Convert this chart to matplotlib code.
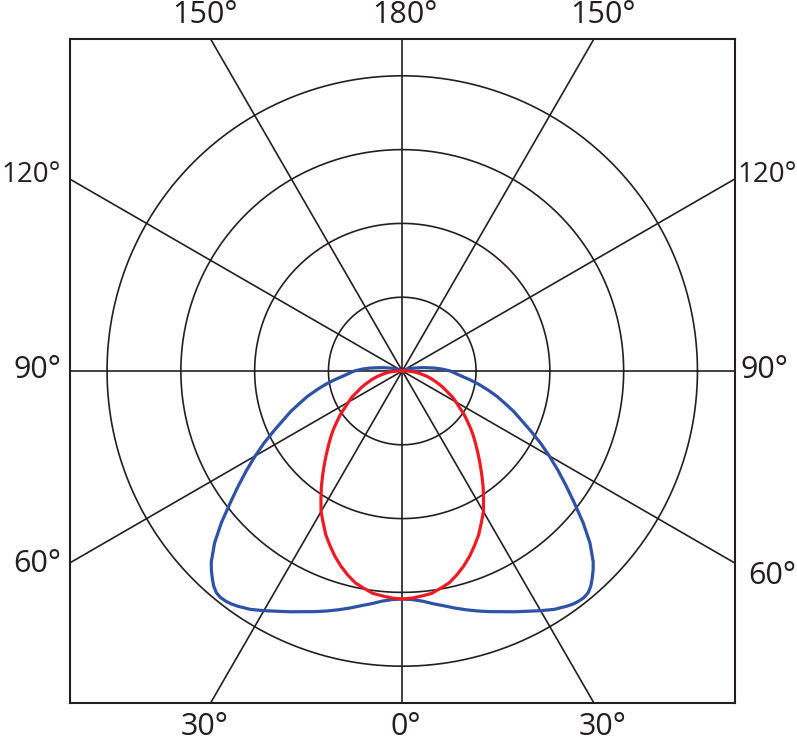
import numpy as np
import matplotlib
matplotlib.use("Agg")
import matplotlib.pyplot as plt

# ---- data (angle from nadir in degrees, intensity in ring units of 100) ----
blue_angles = [0, 2.5, 5, 7.5, 10, 12.5, 15, 17.5, 20, 22.5, 25, 27.5, 30, 32.5, 35,
               36.25, 37.5, 38.75, 40, 41.25, 42.5, 43.75, 45, 47.5, 50, 52.5, 55, 57.5,
               60, 62.5, 65, 67.5, 70, 72.5, 75, 77.5, 80, 82.5, 85, 87.5, 90, 92.5,
               95, 97.5, 100, 102.5, 105, 107.5, 110, 115, 120]
blue_values = [309, 310, 313, 318, 323, 329, 335, 341, 347, 353, 360, 367, 375, 383, 389,
               391.5, 393, 393.5, 392, 387.5, 381, 374, 366, 345, 320, 294, 271, 250,
               230, 211, 192, 175, 161, 146, 133, 119, 106, 93, 81, 72, 65, 55,
               45, 34, 26, 19, 14, 11, 7, 3, 0]

red_angles = [0, 2.5, 5, 7.5, 10, 12.5, 15, 17.5, 20, 22.5, 25, 27.5, 30, 32.5, 35,
              37.5, 40, 42.5, 45, 47.5, 50, 52.5, 55, 57.5, 60, 62.5, 65, 67.5, 70,
              72.5, 75, 77.5, 80, 82.5, 85, 87.5, 90, 92.5, 95]
red_values = [309, 308, 306, 304, 299, 294, 286, 277, 267, 256, 245, 232, 220, 205, 191,
              177, 164, 152, 141, 131, 121, 111, 102, 92, 84, 77, 68, 61, 54,
              47, 41, 35, 28, 23, 18, 12, 7, 3, 0]

ring_values = [100, 200, 300, 400]
spoke_angles = [0, 30, 60, 90, 120, 150]

# label text, x px, y px, ha, size
labels = [
    ("150°", 205, 15, "center", 22), ("180°", 405, 15, "center", 22),
    ("150°", 603, 15, "center", 22),
    ("120°", 61, 175, "right", 20), ("120°", 737, 175, "left", 20),
    ("90°", 61, 370, "right", 22), ("90°", 740, 370, "left", 22),
    ("60°", 61, 564, "right", 22), ("60°", 748, 576, "left", 22),
    ("30°", 205, 727, "center", 22), ("0°", 406, 727, "center", 22),
    ("30°", 603, 727, "center", 22),
]

W, H = 797, 742
fig = plt.figure(figsize=(W / 100, H / 100), dpi=100)
plt.rcParams['font.family'] = ['Open Sans', 'DejaVu Sans']

left, right, top, bottom = 70, 734.5, 38.5, 703.5
ax = fig.add_axes([left / W, 1 - bottom / H, (right - left) / W, (bottom - top) / H])
half = (right - left) / 2 / 73.8 * 100
ax.set_xlim(-half, half)
ax.set_ylim(-half, half)
ax.set_aspect('equal', adjustable='box')
ax.set_xticks([])
ax.set_yticks([])
for s in ax.spines.values():
    s.set_linewidth(1.5)
    s.set_color('#231f20')

grid_c = '#231f20'
t = np.linspace(0, 2 * np.pi, 721)
for rv in ring_values:
    ax.plot(rv * np.cos(t), rv * np.sin(t), color=grid_c, lw=1.2, zorder=1)
L = 2000
for a in spoke_angles:
    ar = np.radians(a)
    dx, dy = np.sin(ar), -np.cos(ar)
    ax.plot([-L * dx, L * dx], [-L * dy, L * dy], color=grid_c, lw=1.2, zorder=1)


def draw(angles, values, color):
    a = np.radians(np.array(angles, dtype=float))
    v = np.array(values, dtype=float)
    aa = np.concatenate([-a[::-1], a[1:]])
    vv = np.concatenate([v[::-1], v[1:]])
    ax.plot(vv * np.sin(aa), -vv * np.cos(aa), color=color, lw=2.3, zorder=3,
            solid_joinstyle='round')


draw(blue_angles, blue_values, '#2f52a4')
draw(red_angles, red_values, '#ed1c24')

for txt, x, y, ha, fs in labels:
    fig.text(x / W, 1 - y / H, txt, ha=ha, va='center', fontsize=fs, color='#231f20')

fig.savefig('out.png', dpi=100)
